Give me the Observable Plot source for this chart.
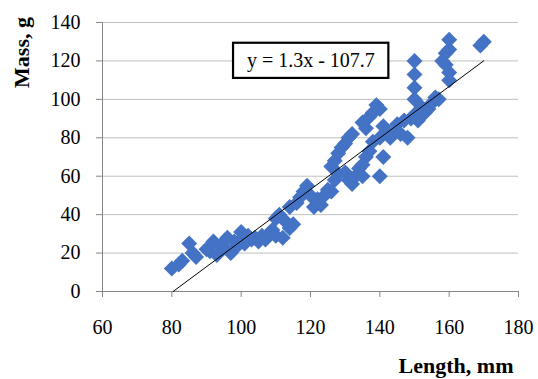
<!DOCTYPE html>
<html><head><meta charset="utf-8">
<script src="https://cdn.jsdelivr.net/npm/d3@7"></script>
<script src="https://cdn.jsdelivr.net/npm/@observablehq/plot@0.6"></script>
<style>body{margin:0;background:#fff}</style>
</head><body><div id="chart"></div>
<script>
// Fish length (mm) and mass (g)
const lengths = [80,82,83,85,86,87,90,91,92,93,94,95,96,97,98,99,100,100,101,102,103,104,105,106,107,108,109,110,110,111,112,113,114,115,114,116,117,118,119,120,121,122,123,124,125,126,127,128,126,127,128,129,130,131,132,130,131,132,133,134,135,136,137,138,135,136,137,138,139,140,141,142,140,143,141,140,135,144,145,146,147,148,149,150,151,152,153,154,155,156,157,150,150,150,150,158,159,160,160,159,160,160,169,170];
const masses  = [12,14,16,25,20,18,22,21,26,19,24,23,28,20,26,24,31,27,25,29,27,28,26,29,27,30,32,29,38,40,28,36,33,35,44,46,49,52,55,50,44,48,45,50,53,52,58,61,65,68,72,75,77,80,82,62,58,56,60,64,66,70,73,78,88,85,91,93,97,95,86,83,80,80,70,60,60,83,87,82,89,80,90,92,89,96,93,95,98,101,100,100,106,113,120,120,118,131,126,124,114,110,128,130];

const xTicks = [60, 80, 100, 120, 140, 160, 180];
const yTicks = [0, 20, 40, 60, 80, 100, 120, 140];
const xLabel = "Length, mm";
const yLabel = "Mass, g";

// Linear trend line shown in the chart
const trendSlope = 1.34;
const trendIntercept = -107.7;
const trendRange = [80.4, 170];
const equationLabel = "y = 1.3x - 107.7";
// Equation box location (data units)
const eqBox = {x1: 97.8, x2: 142.6, y1: 110.9, y2: 129.2, tx: 120.1, ty: 120.2};

const points = lengths.map((L, i) => ({L, M: masses[i]}));
const trend = trendRange.map(x => ({x, y: trendSlope * x + trendIntercept}));

const chart = Plot.plot({
  width: 538,
  height: 379,
  marginLeft: 102,
  marginRight: 20,
  marginTop: 22,
  marginBottom: 88,
  style: {fontFamily: "'Liberation Serif', 'Times New Roman', serif", fontSize: "20px", color: "#000", background: "#fff"},
  x: {domain: [60, 180]},
  y: {domain: [0, 140]},
  marks: [
    Plot.ruleY(yTicks.filter(d => d > 0), {stroke: "#bfbfbf", strokeWidth: 1}),
    Plot.ruleX([60], {stroke: "#868686"}),
    Plot.ruleY([0], {stroke: "#868686"}),
    Plot.axisX(xTicks, {tickSize: 6, tickPadding: 22, stroke: "#868686", fill: "#000", label: null, fontSize: 20}),
    Plot.axisY(yTicks, {tickSize: 6, tickPadding: 16, stroke: "#868686", fill: "#000", label: null, fontSize: 20}),
    Plot.dot(points, {x: "L", y: "M", symbol: "diamond2", r: 7.2, fill: "#4472C4", stroke: "none"}),
    Plot.line(trend, {x: "x", y: "y", stroke: "#000", strokeWidth: 1}),
    Plot.rect([eqBox], {x1: "x1", x2: "x2", y1: "y1", y2: "y2", fill: "#fff", stroke: "#000", strokeWidth: 2.2}),
    Plot.text([eqBox], {x: "tx", y: "ty", text: () => equationLabel, fontSize: 20, fill: "#000"}),
    Plot.text([xLabel], {frameAnchor: "bottom-right", text: d => d, textAnchor: "end", lineAnchor: "bottom", dx: -5, dy: 81, fontSize: 22, fontWeight: "bold", fill: "#000"}),
    Plot.text([yLabel], {frameAnchor: "top-left", text: d => d, rotate: -90, textAnchor: "middle", lineAnchor: "bottom", dx: -74, dy: 30, fontSize: 22, fontWeight: "bold", fill: "#000"})
  ]
});
document.getElementById("chart").append(chart);
</script>
</body></html>
